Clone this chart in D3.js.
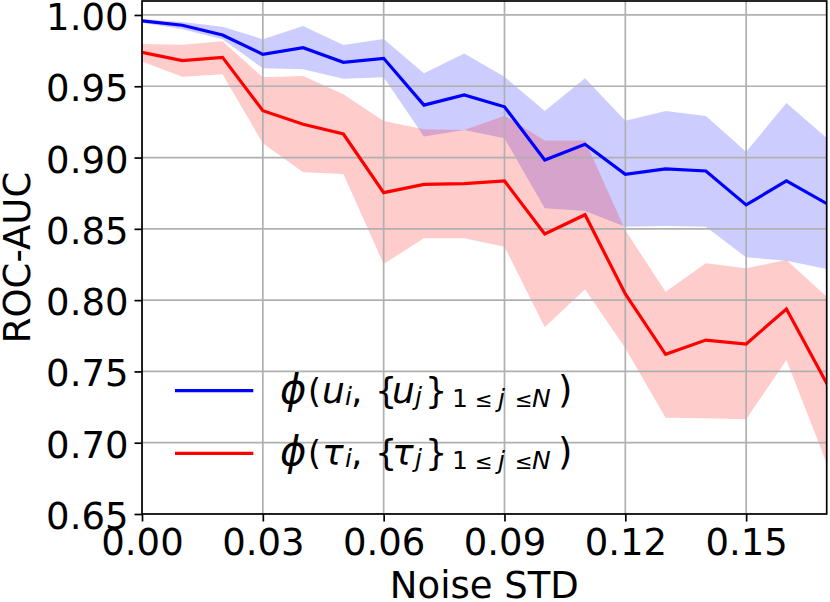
<!DOCTYPE html>
<html>
<head>
<meta charset="utf-8">
<script src="https://cdn.jsdelivr.net/npm/d3@7"></script>
<style>
  html, body { margin: 0; padding: 0; background: #fff; }
  svg { display: block; font-family: "DejaVu Sans", sans-serif; }
</style>
</head>
<body>
<svg id="chart" width="830" height="602"></svg>
<script>
// ---- data ----
const noiseStd = [0.00, 0.01, 0.02, 0.03, 0.04, 0.05, 0.06, 0.07, 0.08, 0.09, 0.10, 0.11, 0.12, 0.13, 0.14, 0.15, 0.16, 0.17];

const blueMean  = [0.9958, 0.9928, 0.9860, 0.9724, 0.9770, 0.9668, 0.9696, 0.9368, 0.9439, 0.9356, 0.8983, 0.9093, 0.8882, 0.8921, 0.8906, 0.8668, 0.8836, 0.8677];
const blueUpper = [0.9972, 0.9951, 0.9918, 0.9830, 0.9923, 0.9790, 0.9832, 0.9591, 0.9729, 0.9567, 0.9327, 0.9556, 0.9258, 0.9327, 0.9292, 0.9040, 0.9383, 0.9138];
const blueLower = [0.9946, 0.9900, 0.9830, 0.9626, 0.9619, 0.9553, 0.9563, 0.9147, 0.9193, 0.9135, 0.8644, 0.8625, 0.8515, 0.8520, 0.8515, 0.8300, 0.8277, 0.8218];

const redMean  = [0.9738, 0.9680, 0.9703, 0.9329, 0.9233, 0.9165, 0.8754, 0.8812, 0.8817, 0.8836, 0.8464, 0.8599, 0.8043, 0.7620, 0.7720, 0.7692, 0.7938, 0.7417];
const redUpper = [0.9797, 0.9792, 0.9815, 0.9563, 0.9572, 0.9444, 0.9257, 0.9198, 0.9193, 0.9294, 0.9119, 0.9119, 0.8490, 0.8059, 0.8258, 0.8223, 0.8282, 0.8024];
const redLower = [0.9673, 0.9567, 0.9584, 0.9100, 0.8897, 0.8885, 0.8253, 0.8434, 0.8434, 0.8375, 0.7809, 0.8076, 0.7662, 0.7175, 0.7171, 0.7164, 0.7580, 0.6856];

const xTicks = [0.00, 0.03, 0.06, 0.09, 0.12, 0.15];
const yTicks = [0.65, 0.70, 0.75, 0.80, 0.85, 0.90, 0.95, 1.00];
const xDomain = [0, 0.17];
const yDomain = [0.65, 1.0098];

const xLabel = "Noise STD";
const yLabel = "ROC-AUC";
const legendVars = ["u", "\u03C4"];

// ---- layout ----
const W = 830, H = 602;
const m = { left: 142, top: 1, right: 3.3, bottom: 88 };
const iw = W - m.left - m.right, ih = H - m.top - m.bottom;
const FONT = 37;

const svg = d3.select("#chart");
const g = svg.append("g").attr("transform", `translate(${m.left},${m.top})`);

const x = d3.scaleLinear().domain(xDomain).range([0, iw]);
const y = d3.scaleLinear().domain(yDomain).range([ih, 0]);

const series = [
  { color: "#0000ff", mean: blueMean, lo: blueLower, hi: blueUpper },
  { color: "#ff0000", mean: redMean,  lo: redLower,  hi: redUpper }
];

g.append("defs").append("clipPath").attr("id", "clip")
  .append("rect").attr("width", iw).attr("height", ih);

const plot = g.append("g").attr("clip-path", "url(#clip)");

// bands
const area = d3.area()
  .x((d, i) => x(noiseStd[i]))
  .y0(d => y(d[0]))
  .y1(d => y(d[1]));
series.forEach(s => {
  const pts = s.lo.map((v, i) => [v, s.hi[i]]);
  plot.append("path").datum(pts)
    .attr("d", area)
    .attr("fill", s.color)
    .attr("fill-opacity", 0.2)
    .attr("stroke", "none");
});

// grid (over patches, under lines)
const grid = plot.append("g");
grid.selectAll(".vg").data(xTicks).join("line")
  .attr("x1", d => x(d)).attr("x2", d => x(d))
  .attr("y1", 0).attr("y2", ih)
  .attr("stroke", "#b0b0b0").attr("stroke-width", 1.7);
grid.selectAll(".hg").data(yTicks).join("line")
  .attr("y1", d => y(d)).attr("y2", d => y(d))
  .attr("x1", 0).attr("x2", iw)
  .attr("stroke", "#b0b0b0").attr("stroke-width", 1.7);

// lines
const line = d3.line().x((d, i) => x(noiseStd[i])).y(d => y(d));
series.forEach(s => {
  plot.append("path").datum(s.mean)
    .attr("d", line)
    .attr("fill", "none")
    .attr("stroke", s.color)
    .attr("stroke-width", 3.2)
    .attr("stroke-linejoin", "miter")
    .attr("stroke-linecap", "square");
});

// axes
const xAxis = d3.axisBottom(x).tickValues(xTicks).tickFormat(d => d.toFixed(2))
  .tickSizeInner(7.5).tickSizeOuter(0);
const yAxis = d3.axisLeft(y).tickValues(yTicks).tickFormat(d => d.toFixed(2))
  .tickSizeInner(7.5).tickSizeOuter(0).tickPadding(6);

const gx = g.append("g").attr("transform", `translate(0,${ih})`).call(xAxis);
const gy = g.append("g").call(yAxis);
[gx, gy].forEach(a => {
  a.select(".domain").remove();
  a.selectAll(".tick line").attr("stroke", "#000").attr("stroke-width", 1.7);
  a.selectAll(".tick text").attr("fill", "#000")
    .style("font-family", "'DejaVu Sans', sans-serif")
    .style("font-size", FONT + "px");
});
gx.selectAll(".tick text").attr("dy", null).attr("y", 41);
gy.selectAll(".tick text").attr("dy", null).attr("y", 14.5);

// spines
g.append("rect").attr("x", 0).attr("y", 0).attr("width", iw).attr("height", ih)
  .attr("fill", "none").attr("stroke", "#000").attr("stroke-width", 1.7);

// axis labels
svg.append("text")
  .attr("x", m.left + iw / 2).attr("y", 598)
  .attr("text-anchor", "middle")
  .style("font-size", FONT + "px")
  .text(xLabel);
svg.append("text")
  .attr("transform", `translate(30,${m.top + ih / 2}) rotate(-90)`)
  .attr("text-anchor", "middle")
  .style("font-size", FONT + "px")
  .text(yLabel);

// legend (mathtext-like label: phi(v_i, {v_j}_{1<=j<=N}))
const leg = svg.append("g");
const SUB = 25;
series.forEach((s, k) => {
  const cy = 390.7 + k * 62.6;
  const base = cy + 12;
  leg.append("line")
    .attr("x1", 175).attr("x2", 253.3)
    .attr("y1", cy).attr("y2", cy)
    .attr("stroke", s.color).attr("stroke-width", 3.2);
  const v = legendVars[k];
  // [text, dx from label start, size, italic, baseline shift]
  const pieces = [
    ["\u03D5", -1, 40, true, 0],
    ["(", 27, 33, false, 0],
    [v, 41, 36, true, 0],
    ["i", 64, SUB, true, 2],
    [",", 70, 36, false, 0],
    ["{", 94, 35, false, 0],
    [v, 111, 36, true, 0],
    ["j", 134, SUB, true, 2],
    ["}", 144, 35, false, 0],
    ["1", 171, SUB, false, 4],
    ["\u2264", 194, 21, false, 4],
    ["j", 217, SUB, true, 4],
    ["\u2264", 234, 21, false, 4],
    ["N", 251, SUB, true, 4],
    [")", 277, 37, false, 0]
  ];
  const t = leg.append("text").attr("y", base);
  pieces.forEach(p => {
    t.append("tspan")
      .attr("x", 281 + p[1])
      .attr("y", base + p[4])
      .style("font-size", p[2] + "px")
      .style("font-style", p[3] ? "italic" : "normal")
      .text(p[0]);
  });
});
</script>
</body>
</html>
